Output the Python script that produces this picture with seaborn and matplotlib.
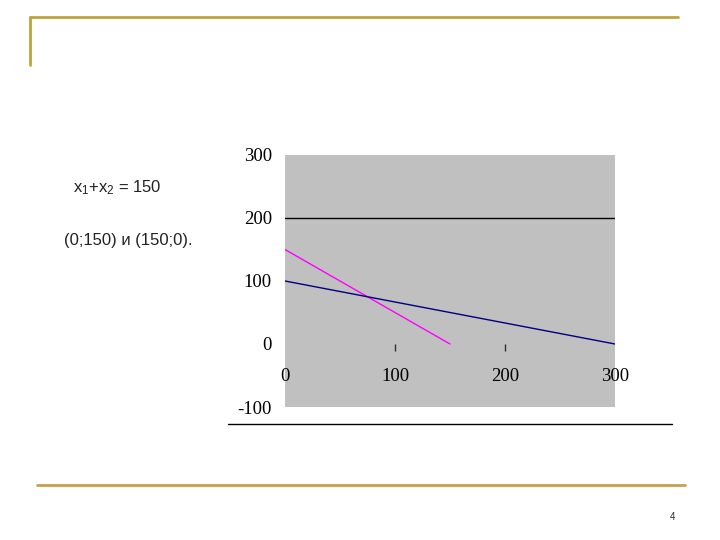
import matplotlib
matplotlib.use("Agg")
import matplotlib.pyplot as plt
import seaborn as sns
import pandas as pd
from matplotlib.lines import Line2D

# Data
line1_x = [0, 150]      # x1 + x2 = 150
line1_y = [150, 0]
line2_x = [0, 300]
line2_y = [100, 0]
line3_x = [0, 300]
line3_y = [200, 200]
x_ticks = [0, 100, 200, 300]
y_ticks = [-100, 0, 100, 200, 300]

df = pd.concat([
    pd.DataFrame({"x": line1_x, "y": line1_y, "s": "a"}),
    pd.DataFrame({"x": line2_x, "y": line2_y, "s": "b"}),
    pd.DataFrame({"x": line3_x, "y": line3_y, "s": "c"}),
], ignore_index=True)

sns.set_style("white")
plt.rcParams["font.family"] = ["Liberation Serif", "DejaVu Sans"]
plt.rcParams["mathtext.default"] = "regular"

fig = plt.figure(figsize=(7.2, 5.4), dpi=100)
ax = fig.add_axes([285/720, 1-407/540, (615-285)/720, (407-155)/540])
ax.set_facecolor("#C0C0C0")

sns.lineplot(data=df, x="x", y="y", hue="s", units="s", estimator=None, sort=False,
             palette={"a": "#FF00FF", "b": "#000080", "c": "black"},
             legend=False, linewidth=1.0, ax=ax)

ax.set_xlim(0, 300)
ax.set_ylim(-100, 300)
ax.set_xlabel("")
ax.set_ylabel("")

for side in ["top", "right", "left"]:
    ax.spines[side].set_visible(False)
ax.spines["bottom"].set_position(("data", 0))
ax.spines["bottom"].set_visible(False)

ax.set_xticks(x_ticks)
ax.set_xticklabels([str(v) for v in x_ticks], fontsize=13.5, color="black")
ax.set_yticks(y_ticks)
ax.set_yticklabels([str(v) for v in y_ticks], fontsize=13.5, color="black")
ax.tick_params(axis="x", direction="out", length=5, width=1, color="#303030", pad=12, bottom=True)
ax.tick_params(axis="y", length=0, pad=9.5)
xt = ax.xaxis.get_major_ticks()
xt[0].tick1line.set_visible(False)
xt[-1].tick1line.set_visible(False)

# slide decoration
gold = "#BFA43A"
fig.add_artist(Line2D([30/720, 678/720], [1-17/540, 1-17/540], color=gold, lw=2))
fig.add_artist(Line2D([30/720, 30/720], [1-17/540, 1-65/540], color=gold, lw=2))
fig.add_artist(Line2D([37/720, 685/720], [1-485/540, 1-485/540], color="#C8A050", lw=2))
fig.add_artist(Line2D([228/720, 672/720], [1-424/540, 1-424/540], color="black", lw=1))

fig.text(73/720, 1-188/540, r"x$_1$+x$_2$ = 150", fontsize=12, family=["Liberation Sans"],
         va="center", color="#222222")
fig.text(64/720, 1-240/540, "(0;150) и (150;0).", fontsize=12, family=["Liberation Sans"],
         va="center", color="#222222")
fig.text(672/720, 1-517/540, "4", fontsize=7, family=["Liberation Sans"], va="center", ha="center")

fig.savefig("out.png", dpi=100)
